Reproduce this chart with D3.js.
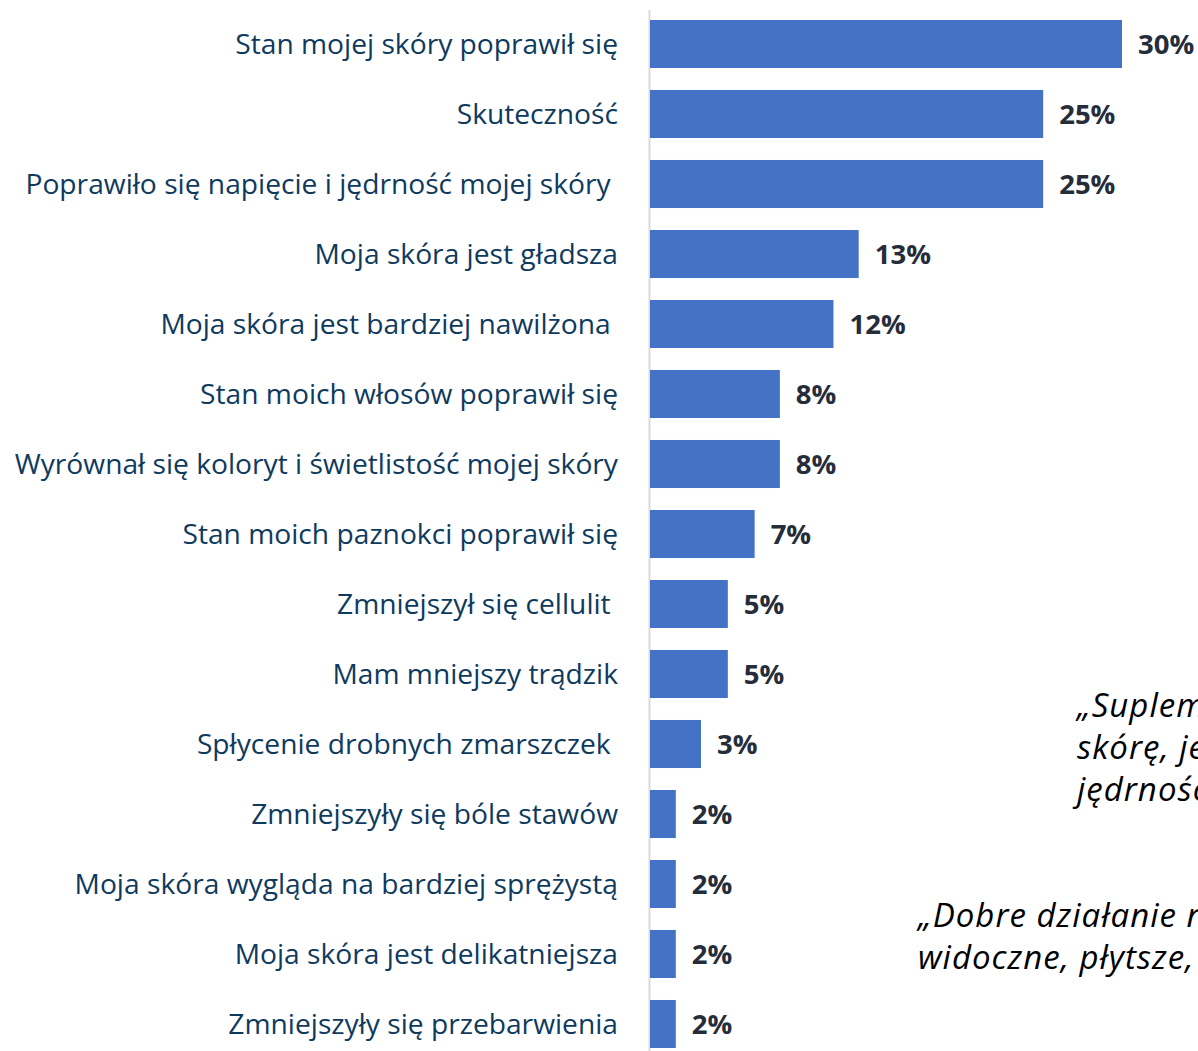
<!DOCTYPE html>
<html>
<head>
<meta charset="utf-8">
<script src="https://cdn.jsdelivr.net/npm/d3@7"></script>
<style>
  body { margin: 0; background: #fff; }
  svg { display: block; }
  text { white-space: pre; }
</style>
</head>
<body>
<div id="chart"></div>
<script>
// categories, top to bottom
var categories = [
  "Stan mojej skóry poprawił się",
  "Skuteczność",
  "Poprawiło się napięcie i jędrność mojej skóry ",
  "Moja skóra jest gładsza",
  "Moja skóra jest bardziej nawilżona ",
  "Stan moich włosów poprawił się",
  "Wyrównał się koloryt i świetlistość mojej skóry",
  "Stan moich paznokci poprawił się",
  "Zmniejszył się cellulit ",
  "Mam mniejszy trądzik",
  "Spłycenie drobnych zmarszczek ",
  "Zmniejszyły się bóle stawów",
  "Moja skóra wygląda na bardziej sprężystą",
  "Moja skóra jest delikatniejsza",
  "Zmniejszyły się przebarwienia"
];
// percent of answers
var values = [30, 25, 25, 13.3, 11.7, 8.3, 8.3, 6.7, 5, 5, 3.3, 1.7, 1.7, 1.7, 1.7];
// labels as printed on the chart
var valueLabels = ["30%", "25%", "25%", "13%", "12%", "8%", "8%", "7%", "5%", "5%", "3%", "2%", "2%", "2%", "2%"];

// quotes on the right side (cut off by the page edge, as in the original)
var quote1 = ["„Suplement poprawił moją", "skórę, jest bardziej", "jędrność i elastyczność”"];
var quote2 = ["„Dobre działanie na zmarszczki, są mniej", "widoczne, płytsze, skóra gładsza”"];

var width = 1198, height = 1051;

var svg = d3.select("#chart")
  .append("svg")
    .attr("width", width)
    .attr("height", height);

var x = d3.scaleLinear()
  .domain([0, 30])
  .range([649, 1122]);

var y = d3.scaleBand()
  .domain(categories)
  .range([9, 1059])
  .paddingInner(0.314)
  .paddingOuter(0.157);

// vertical axis line
svg.append("line")
  .attr("x1", 649.5).attr("x2", 649.5)
  .attr("y1", 10).attr("y2", height)
  .attr("stroke", "#d9d9d9")
  .attr("stroke-width", 2);

// bars
svg.selectAll("rect.bar")
  .data(values)
  .enter()
  .append("rect")
    .attr("class", "bar")
    .attr("x", x(0) + 1)
    .attr("y", function(d, i) { return y(categories[i]); })
    .attr("width", function(d) { return x(d) - x(0) - 1; })
    .attr("height", y.bandwidth())
    .attr("fill", "#4472c4");

// category labels
svg.selectAll("text.cat")
  .data(categories)
  .enter()
  .append("text")
    .attr("class", "cat")
    .attr("x", 618)
    .attr("y", function(d) { return y(d) + y.bandwidth() / 2; })
    .attr("dy", "0.35em")
    .attr("text-anchor", "end")
    .style("font-family", "'Open Sans', sans-serif")
    .style("font-size", "28.2px")
    .style("fill", "#0e3a5e")
    .text(function(d) { return d; });

// value labels
svg.selectAll("text.val")
  .data(values)
  .enter()
  .append("text")
    .attr("class", "val")
    .attr("x", function(d) { return x(d) + 16; })
    .attr("y", function(d, i) { return y(categories[i]) + y.bandwidth() / 2; })
    .attr("dy", "0.35em")
    .style("font-family", "'Open Sans', sans-serif")
    .style("font-weight", "bold")
    .style("font-size", "27.5px")
    .style("fill", "#262d3a")
    .text(function(d, i) { return valueLabels[i]; });

// quotes
function drawQuote(lines, x0, y0) {
  svg.append("g").selectAll("text")
    .data(lines)
    .enter()
    .append("text")
      .attr("x", x0)
      .attr("y", function(d, i) { return y0 + i * 42; })
      .style("font-family", "'Open Sans', sans-serif")
      .style("font-style", "italic")
      .style("font-size", "33px")
      .style("letter-spacing", "1px")
      .style("fill", "#000")
      .text(function(d) { return d; });
}
drawQuote(quote1, 1077, 717);
drawQuote(quote2, 918, 927);
</script>
</body>
</html>
